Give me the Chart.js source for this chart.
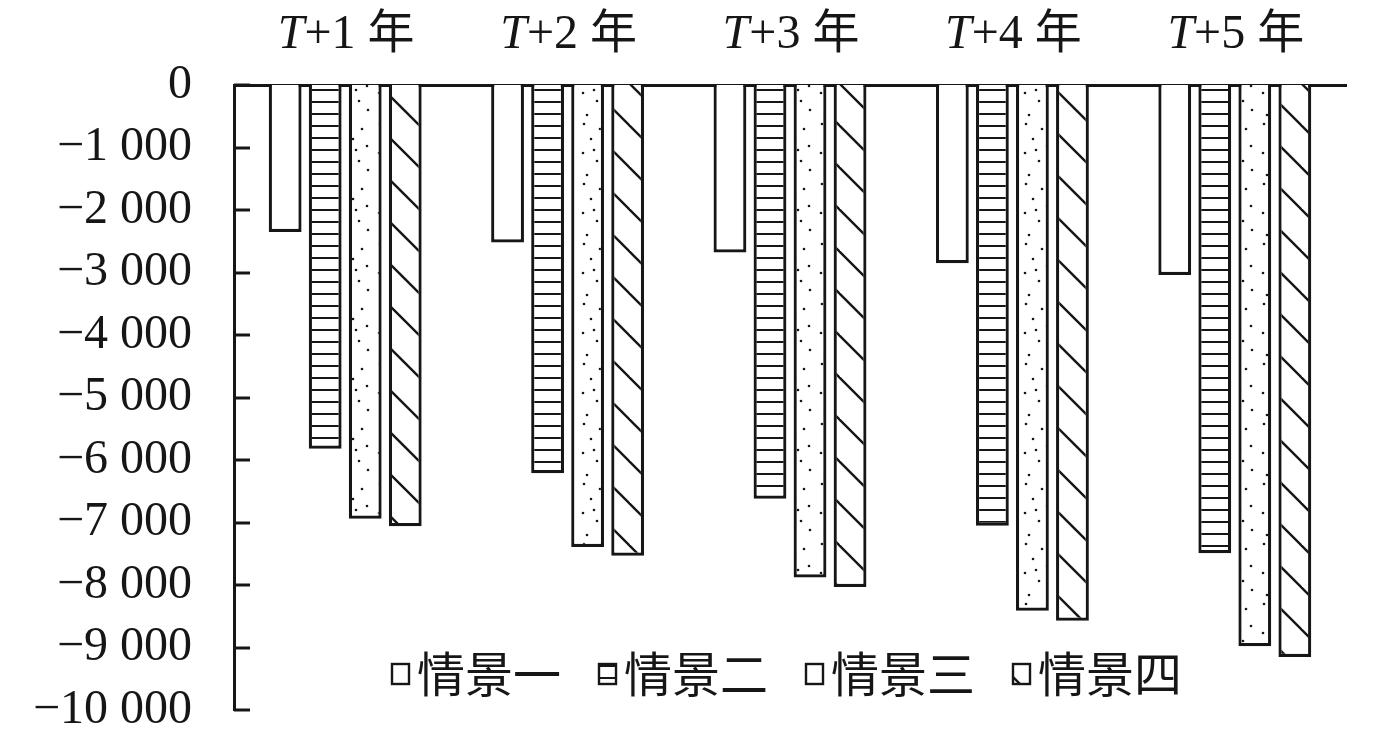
<!DOCTYPE html>
<html>
<head>
<meta charset="utf-8">
<style>
  html, body { margin: 0; padding: 0; background: #ffffff; }
  #wrap { width: 1378px; height: 748px; }
</style>
<script src="https://cdn.jsdelivr.net/npm/chart.js@4.4.1/dist/chart.umd.min.js"></script>
</head>
<body>
<div id="wrap"><canvas id="c" width="1378" height="748"></canvas></div>
<script>
// ---------- data ----------
const categories = ['T+1 年', 'T+2 年', 'T+3 年', 'T+4 年', 'T+5 年'];
const seriesNames = ['情景一', '情景二', '情景三', '情景四'];
const scenario1 = [-2350, -2520, -2680, -2850, -3040];
const scenario2 = [-5820, -6210, -6620, -7050, -7490];
const scenario3 = [-6940, -7390, -7880, -8410, -8980];
const scenario4 = [-7060, -7530, -8030, -8570, -9150];
const yMin = -10000;
const yMax = 0;
const yStep = 1000;

// ---------- styles ----------
const INK = '#161616';
const SERIF = '"Liberation Serif", "Times New Roman", serif';
const CJK = '"Noto Sans CJK SC", "Noto Sans", sans-serif';

function makeTile(w, h, draw) {
  const cv = document.createElement('canvas');
  cv.width = w; cv.height = h;
  const g = cv.getContext('2d');
  g.fillStyle = '#ffffff';
  g.fillRect(0, 0, w, h);
  draw(g, w, h);
  return cv;
}
function patterns(ctx) {
  const plain = '#ffffff';
  const hLines = ctx.createPattern(makeTile(10, 12, (g, w) => {
    g.fillStyle = INK; g.fillRect(0, 5, w, 2);
  }), 'repeat');
  const dotPos = [[6,4],[22,9],[13,19],[27,26],[5,33],[19,41],[28,50],[9,55],[16,30]];
  const dots = ctx.createPattern(makeTile(34, 60, (g) => {
    g.fillStyle = INK;
    dotPos.forEach(([x, y]) => { g.beginPath(); g.arc(x, y, 1.3, 0, Math.PI * 2); g.fill(); });
  }), 'repeat');
  const diag = ctx.createPattern(makeTile(42, 42, (g, w, h) => {
    g.strokeStyle = INK; g.lineWidth = 2.4;
    [-w, 0, w].forEach(off => {
      g.beginPath(); g.moveTo(off - 2, -2); g.lineTo(off + w + 2, h + 2); g.stroke();
    });
  }), 'repeat');
  return [plain, hLines, dots, diag];
}

function fmt(v) {
  const a = Math.abs(v);
  const s = String(a).replace(/\B(?=(\d{3})+(?!\d))/g, ' ');
  return v < 0 ? '\u2212' + s : s;
}

// inner tick marks on the y axis
const innerTicks = {
  id: 'innerTicks',
  afterDraw(chart) {
    const ys = chart.scales.y;
    const ctx = chart.ctx;
    ctx.save();
    ctx.strokeStyle = INK;
    ctx.lineWidth = 3;
    ys.ticks.forEach(t => {
      const y = Math.round(ys.getPixelForValue(t.value));
      ctx.beginPath();
      ctx.moveTo(ys.right, y);
      ctx.lineTo(ys.right + 16, y);
      ctx.stroke();
    });
    ctx.restore();
  }
};

// category labels on top with italic T
const topLabels = {
  id: 'topLabels',
  afterDraw(chart) {
    const xs = chart.scales.x;
    const ctx = chart.ctx;
    ctx.save();
    ctx.fillStyle = INK;
    ctx.textBaseline = 'alphabetic';
    ctx.textAlign = 'left';
    const baseY = 48;
    categories.forEach((lab, i) => {
      const m = lab.match(/^(T)(\+\d+ )(.*)$/);
      const parts = m ? [
        { t: m[1], f: 'italic 48px ' + SERIF },
        { t: m[2], f: '48px ' + SERIF },
        { t: m[3], f: '47px ' + CJK }
      ] : [{ t: lab, f: '48px ' + SERIF }];
      let total = 0;
      parts.forEach(p => { ctx.font = p.f; p.w = ctx.measureText(p.t).width; total += p.w; });
      let x = xs.getPixelForValue(i) - total / 2 + 1;
      parts.forEach(p => { ctx.font = p.f; ctx.fillText(p.t, x, baseY); x += p.w; });
    });
    ctx.restore();
  }
};

// legend inside the plot area, near the bottom
const innerLegend = {
  id: 'innerLegend',
  afterDraw(chart) {
    const ctx = chart.ctx;
    const area = chart.chartArea;
    const boxW = 17, boxH = 20, gapBox = 8, gapItem = 38;
    ctx.save();
    ctx.font = '48px ' + CJK;
    const items = chart.data.datasets.map(ds => ({ ds, w: ctx.measureText(ds.label).width }));
    let total = 0;
    items.forEach((it, i) => { total += boxW + gapBox + it.w + (i ? gapItem : 0); });
    let x = (area.left + area.right) / 2 - total / 2 - 3;
    const cy = 674;
    items.forEach(it => {
      ctx.fillStyle = it.ds.backgroundColor;
      ctx.fillRect(x, cy - boxH / 2, boxW, boxH);
      ctx.strokeStyle = INK;
      ctx.lineWidth = 2.4;
      ctx.strokeRect(x, cy - boxH / 2, boxW, boxH);
      ctx.fillStyle = INK;
      ctx.textBaseline = 'middle';
      ctx.textAlign = 'left';
      ctx.fillText(it.ds.label, x + boxW + gapBox, cy);
      x += boxW + gapBox + it.w + gapItem;
    });
    ctx.restore();
  }
};

function build() {
  const canvas = document.getElementById('c');
  const ctx = canvas.getContext('2d');
  const fills = patterns(ctx);
  const seriesValues = [scenario1, scenario2, scenario3, scenario4];
  const datasets = seriesValues.map((vals, i) => ({
    label: seriesNames[i],
    data: vals,
    backgroundColor: fills[i],
    borderColor: INK,
    borderWidth: 3.2,
    categoryPercentage: 0.72,
    barPercentage: 0.82
  }));

  new Chart(ctx, {
    type: 'bar',
    data: { labels: categories, datasets },
    options: {
      responsive: false,
      devicePixelRatio: 1,
      animation: false,
      layout: { padding: { left: 0, right: 32, top: 0, bottom: 38 } },
      plugins: { legend: { display: false }, tooltip: { enabled: false } },
      scales: {
        x: {
          type: 'category',
          position: 'top',
          grid: { display: false },
          ticks: { display: false },
          border: { display: true, color: INK, width: 3 },
          afterFit(scale) { scale.height = 85; scale.paddingLeft = 0; scale.paddingRight = 0; }
        },
        y: {
          min: yMin,
          max: yMax,
          grid: { display: false, drawTicks: false },
          border: { display: true, color: INK, width: 3 },
          ticks: {
            stepSize: yStep,
            autoSkip: false,
            padding: 42,
            color: INK,
            font: { family: 'Liberation Serif', size: 48 },
            callback: (v) => fmt(v)
          },
          afterFit(scale) { scale.width = 234; scale.paddingTop = 0; scale.paddingBottom = 0; }
        }
      }
    },
    plugins: [innerTicks, topLabels, innerLegend]
  });
}

const fontLoads = [
  document.fonts.load('48px "Liberation Serif"', '0123456789'),
  document.fonts.load('italic 48px "Liberation Serif"', 'T'),
  document.fonts.load('48px "Noto Sans CJK SC"', '情景一二三四年')
];
Promise.all(fontLoads).catch(() => {}).then(build);
</script>
</body>
</html>
